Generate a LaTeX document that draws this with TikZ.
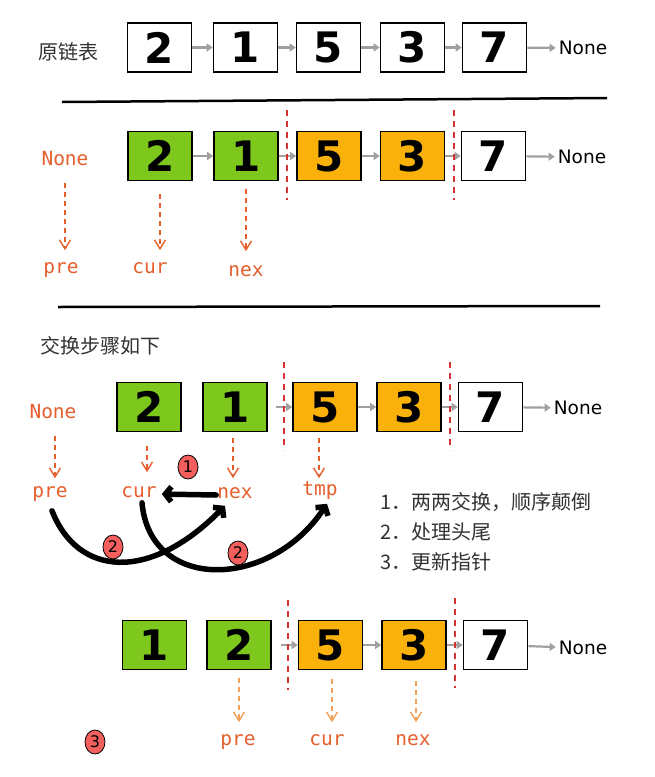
\documentclass[tikz,border=0pt]{standalone}
\usepackage{fontspec}
\usetikzlibrary{arrows.meta,shapes.geometric}
\newfontfamily\cjkfont{Noto Sans CJK SC}
\newfontfamily\monofont{DejaVu Sans Mono}
\newfontfamily\sansfont{DejaVu Sans}
\newfontfamily\digitfont{DejaVu Sans Bold}
\definecolor{boxgreen}{RGB}{126,200,30}
\definecolor{boxorange}{RGB}{250,178,10}
\definecolor{ptrcol}{RGB}{230,95,45}
\definecolor{ptrlight}{RGB}{242,160,90}
\definecolor{sepred}{RGB}{210,50,50}
\definecolor{linkgray}{RGB}{160,160,160}
\definecolor{circred}{RGB}{242,95,92}
\definecolor{headgray}{RGB}{50,50,50}
\tikzset{
  nodebox/.style={draw=black, line width=1.6pt, minimum width=64pt, minimum height=49pt, inner sep=0pt, font=\digitfont\fontsize{42}{42}\selectfont},
  greenbox/.style={nodebox, fill=boxgreen},
  orangebox/.style={nodebox, fill=boxorange},
  whitebox/.style={nodebox, fill=white},
  linkarrow/.style={draw=linkgray, line width=2.2pt, -{Triangle[length=6pt,width=8pt]}},
  nonelab/.style={font=\sansfont\fontsize{18.5}{20}\selectfont, inner sep=1pt},
  ptrlab/.style={text=ptrcol, font=\monofont\fontsize{19.5}{20}\selectfont, inner sep=1pt, text height=10.6pt, text depth=4.6pt},
  ptrarrow/.style={draw=ptrcol, line width=1.4pt, dash pattern=on 5pt off 4pt, -{Straight Barb[length=9pt,width=11pt,line width=1.4pt]}},
  ptrlightarrow/.style={ptrarrow, draw=ptrlight},
  sepline/.style={draw=sepred, line width=2.2pt, dash pattern=on 6pt off 5pt},
  hrule/.style={draw=black, line width=2.5pt},
  heading/.style={text=headgray, font=\cjkfont\fontsize{20}{22}\selectfont, inner sep=0pt},
  listtext/.style={text=headgray, font=\cjkfont\fontsize{20}{22}\selectfont, inner sep=0pt, anchor=west},
  badge/.style={ellipse, draw=black, line width=0.8pt, fill=circred, minimum width=20pt, minimum height=24pt, inner sep=0pt, font=\sansfont\fontsize{16}{16}\selectfont},
  swaparrow/.style={draw=black, line width=5.5pt, line cap=round, -{Straight Barb[length=6pt,width=15pt]}}
}
\begin{document}
\begin{tikzpicture}[x=1pt,y=-1pt]
\useasboundingbox (0,0) rectangle (655,777);
\fill[white] (0,0) rectangle (655,777);

% ---------- section 1 ----------
\node[heading] (t1) at (68,52) {原链表};
\node[whitebox] (a1) at (159.5,47.5) {2};
\node[whitebox] (a2) at (245.5,47.5) {1};
\node[whitebox] (a3) at (328.5,47.5) {5};
\node[whitebox] (a4) at (412.5,47.5) {3};
\node[whitebox] (a5) at (494.5,47.5) {7};
\node[nonelab] (an) at (583,48) {None};
\draw[linkarrow] (a1) -- (a2);
\draw[linkarrow] (a2) -- (a3);
\draw[linkarrow] (a3) -- (a4);
\draw[linkarrow] (a4) -- (a5);
\draw[linkarrow, shorten >=2pt] (a5) -- (an);
\coordinate (r1a) at (62,102);
\coordinate (r1b) at (607,98);
\draw[hrule] (r1a) -- (r1b);

% ---------- section 2 ----------
\node[ptrlab] (n2) at (65,162) {None};
\node[greenbox] (b1) at (160,156) {2};
\node[greenbox] (b2) at (246,156) {1};
\node[orangebox] (b3) at (329,156) {5};
\node[orangebox] (b4) at (412.5,156) {3};
\node[whitebox] (b5) at (493.5,156) {7};
\node[nonelab] (bn) at (582,157) {None};
\draw[linkarrow] (b1) -- (b2);
\draw[linkarrow] (b2) -- (b3);
\draw[linkarrow] (b3) -- (b4);
\draw[linkarrow] (b4) -- (b5);
\draw[linkarrow, shorten >=2pt] (b5) -- (bn);
\coordinate (s2a) at (287,110);
\coordinate (s2b) at (287,200);
\coordinate (s2c) at (454,110);
\coordinate (s2d) at (454,200);
\draw[sepline] (s2a) -- (s2b);
\draw[sepline] (s2c) -- (s2d);
\node[ptrlab] (pre2) at (61,270) {pre};
\node[ptrlab] (cur2) at (150,270) {cur};
\node[ptrlab] (nex2) at (246,273) {nex};
\draw[ptrarrow, shorten >=11pt] ([yshift=-12pt]n2.south) -- (n2.south |- pre2.north);
\draw[ptrarrow, shorten >=11pt] ([yshift=-13pt]b1.south) -- (b1.south |- cur2.north);
\draw[ptrarrow, shorten >=13pt] ([yshift=-8pt]b2.south) -- (b2.south |- nex2.north);
\coordinate (r2a) at (58,307);
\coordinate (r2b) at (600,306);
\draw[hrule] (r2a) -- (r2b);

% ---------- section 3 ----------
\node[heading] (t3) at (100,346) {交换步骤如下};
\node[ptrlab] (n3) at (53,415) {None};
\node[greenbox] (c1) at (149,407) {2};
\node[greenbox] (c2) at (235,407) {1};
\node[orangebox] (c3) at (325,407) {5};
\node[orangebox] (c4) at (409,407) {3};
\node[whitebox] (c5) at (490.5,407) {7};
\node[nonelab] (cn) at (578,408) {None};
\draw[linkarrow, shorten <=8pt] (c2) -- (c3);
\draw[linkarrow] (c3) -- (c4);
\draw[linkarrow] (c4) -- (c5);
\draw[linkarrow, shorten >=2pt] (c5) -- (cn);
\coordinate (s3a) at (284,362);
\coordinate (s3b) at (284,450);
\coordinate (s3c) at (450,362);
\coordinate (s3d) at (450,450);
\draw[sepline] (s3a) -- (s3b);
\draw[sepline] (s3c) -- (s3d);
\node[ptrlab] (pre3) at (50,494) {pre};
\node[ptrlab] (cur3) at (139,494) {cur};
\node[ptrlab] (nex3) at (235,495) {nex};
\node[ptrlab] (tmp3) at (320,492) {tmp};
\draw[ptrarrow, shorten >=7pt] ([xshift=2pt,yshift=-12pt]n3.south) -- ([xshift=2pt]n3.south |- pre3.north);
\draw[ptrarrow, shorten >=13pt] ([xshift=-2pt,yshift=-14pt]c1.south) -- ([xshift=-2pt]c1.south |- cur3.north);
\draw[ptrarrow, shorten >=8pt] ([xshift=-2pt,yshift=-6pt]c2.south) -- ([xshift=-2pt]c2.south |- nex3.north);
\draw[ptrarrow, shorten >=5pt] ([xshift=-6pt,yshift=-6pt]c3.south) -- ([xshift=-6pt]c3.south |- tmp3.north);
\node[badge] (k1) at (188,467) {1};
\draw[swaparrow, shorten >=4pt] (nex3.west) -- (cur3.east);
\draw[swaparrow] ([xshift=2pt,yshift=-8pt]pre3.south) .. controls (78,577) and (150,582) .. ([xshift=-10pt,yshift=-2pt]nex3.south);
\draw[swaparrow] ([xshift=3pt,yshift=0pt]cur3.south) .. controls (150,592) and (270,590) .. ([xshift=7pt,yshift=-3pt]tmp3.south);
\node[badge] (k2) at (113,547) {2};
\node[badge] (k3) at (238,553) {2};
\node[listtext] (l1) at (380,502) {1．两两交换，顺序颠倒};
\node[listtext] (l2) at (380,532) {2．处理头尾};
\node[listtext] (l3) at (380,562) {3．更新指针};

% ---------- section 4 ----------
\node[greenbox] (d1) at (154.5,645) {1};
\node[greenbox] (d2) at (239,645) {2};
\node[orangebox] (d3) at (330.5,645) {5};
\node[orangebox] (d4) at (414,645) {3};
\node[whitebox] (d5) at (495.5,645) {7};
\node[nonelab] (dn) at (583,648) {None};
\draw[linkarrow, shorten <=9pt] (d2) -- (d3);
\draw[linkarrow] (d3) -- (d4);
\draw[linkarrow] (d4) -- (d5);
\draw[linkarrow, shorten >=2pt] (d5) -- (dn);
\coordinate (s4a) at (288,600);
\coordinate (s4b) at (288,690);
\coordinate (s4c) at (455,598);
\coordinate (s4d) at (455,688);
\draw[sepline] (s4a) -- (s4b);
\draw[sepline] (s4c) -- (s4d);
\node[ptrlab] (pre4) at (238,742) {pre};
\node[ptrlab] (cur4) at (327,742) {cur};
\node[ptrlab] (nex4) at (413,742) {nex};
\draw[ptrlightarrow, shorten >=11pt] ([yshift=-8pt]d2.south) -- (d2.south |- pre4.north);
\draw[ptrlightarrow, shorten >=11pt] ([xshift=1.5pt,yshift=-9pt]d3.south) -- ([xshift=1.5pt]d3.south |- cur4.north);
\draw[ptrlightarrow, shorten >=11pt] ([xshift=2pt,yshift=-11pt]d4.south) -- ([xshift=2pt]d4.south |- nex4.north);
\node[badge] (k4) at (95,742) {3};
\end{tikzpicture}
\end{document}
